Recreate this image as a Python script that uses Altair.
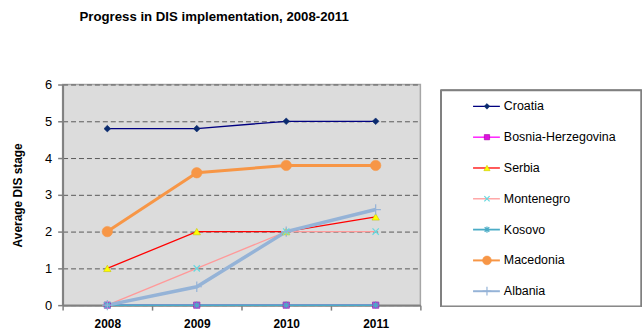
import altair as alt
import pandas as pd

# Chart values
years = ["2008", "2009", "2010", "2011"]
countries = ["Croatia", "Bosnia-Herzegovina", "Serbia", "Montenegro",
             "Kosovo", "Macedonia", "Albania"]
croatia = [4.8, 4.8, 5.0, 5.0]
bosnia = [0, 0, 0, 0]
serbia = [1, 2, 2, 2.4]
montenegro = [0, 1, 2, 2]
kosovo = [0, 0, 0, 0]
macedonia = [2, 3.6, 3.8, 3.8]
albania = [0, 0.5, 2, 2.6]
series_values = [croatia, bosnia, serbia, montenegro, kosovo, macedonia, albania]

FONT = "Liberation Sans"

# Marker glyphs in the unit square
PLUS = "M-1,0L1,0M0,-1L0,1"
XMARK = "M-1,-1L1,1M-1,1L1,-1"
STAR = "M-1,0L1,0M0,-1L0,1M-0.75,-0.75L0.75,0.75M-0.75,0.75L0.75,-0.75"

# Per-series line and marker styling
styles = {
    "Croatia": dict(line="#000080", width=1.3, shape="diamond", filled=True,
                    fill="#0A2A6E", stroke="#0A2A6E", size=45),
    "Bosnia-Herzegovina": dict(line="#FF00FF", width=1.3, shape="square", filled=True,
                               fill="#E010E0", stroke="#A000A0", size=40),
    "Serbia": dict(line="#FF0000", width=1.3, shape="triangle-up", filled=True,
                   fill="#FFFF00", stroke="#C8C800", size=55),
    "Montenegro": dict(line="#FF9999", width=1.3, shape=XMARK, filled=False,
                       fill="none", stroke="#66D9E0", size=40),
    "Kosovo": dict(line="#4BACC6", width=1.8, shape=STAR, filled=False,
                   fill="none", stroke="#4BACC6", size=55),
    "Macedonia": dict(line="#F79646", width=3, shape="circle", filled=True,
                      fill="#F79646", stroke="#F79646", size=110),
    "Albania": dict(line="#95B3D7", width=3.5, shape=PLUS, filled=False,
                    fill="none", stroke="#95B3D7", size=110),
}

df = pd.DataFrame(
    [{"country": c, "year": y, "value": v}
     for c, vals in zip(countries, series_values)
     for y, v in zip(years, vals)]
)

x_enc = alt.X(
    "year:O",
    scale=alt.Scale(type="band", domain=years, paddingInner=0, paddingOuter=0),
    axis=alt.Axis(title=None, labelAngle=0, labelFontWeight="bold", labelFontSize=12,
                  labelFont=FONT, labelColor="black", labelPadding=9,
                  tickBand="extent", tickSize=5, tickColor="#808080", tickWidth=1.5,
                  domainColor="#808080", domainWidth=2, grid=False),
)
y_enc = alt.Y(
    "value:Q",
    scale=alt.Scale(domain=[0, 6], nice=False, zero=True),
    axis=alt.Axis(title="Average DIS stage", values=[0, 1, 2, 3, 4, 5, 6],
                  titleFont=FONT, titleFontSize=12, titleFontWeight="bold",
                  titleColor="black", titlePadding=20,
                  labelFont=FONT, labelFontSize=13, labelColor="black", labelPadding=6,
                  tickSize=5, tickColor="#808080", tickWidth=1.5,
                  domainColor="#808080", domainWidth=2,
                  grid=True, gridColor="#5A5A5A", gridDash=[5, 3], gridWidth=1),
)

lines = []
points = []
for c in countries:
    s = styles[c]
    base = alt.Chart(df).transform_filter(alt.datum.country == c).encode(x=x_enc, y=y_enc)
    lines.append(base.mark_line(color=s["line"], strokeWidth=s["width"]))
    points.append(base.mark_point(shape=s["shape"], filled=s["filled"], fill=s["fill"],
                                  stroke=s["stroke"], strokeWidth=1.2 if not s["filled"] else 0.6,
                                  size=s["size"], opacity=1))

main = alt.layer(*lines, *points).properties(
    width=360, height=222,
    view=alt.ViewBackground(fill="#DCDCDC", stroke="#A6A6A6", strokeWidth=1.5),
)

# Legend panel drawn as its own small chart
leg_df = pd.DataFrame({"country": countries})
leg_y = alt.Y("country:N",
              scale=alt.Scale(type="point", domain=countries, range=[22, 208], padding=0),
              axis=None)
box = alt.Chart(leg_df).mark_rect(fill="white", stroke="#808080", strokeWidth=1.5).encode(
    x=alt.value(0), x2=alt.value(201), y=alt.value(6), y2=alt.value(223)
)
leg_layers = [box]
for c in countries:
    s = styles[c]
    b = alt.Chart(leg_df).transform_filter(alt.datum.country == c).encode(y=leg_y)
    leg_layers.append(b.mark_rule(color=s["line"], strokeWidth=min(s["width"], 2))
                      .encode(x=alt.value(32), x2=alt.value(59)))
    leg_layers.append(b.mark_point(shape=s["shape"], filled=s["filled"], fill=s["fill"],
                                   stroke=s["stroke"],
                                   strokeWidth=1.2 if not s["filled"] else 0.6,
                                   size=s["size"] * 0.7, opacity=1)
                      .encode(x=alt.value(46)))
leg_layers.append(
    alt.Chart(leg_df).mark_text(align="left", baseline="middle", font=FONT, fontSize=12.5,
                                color="black")
    .encode(x=alt.value(63), y=leg_y, text="country:N")
)
legend = alt.layer(*leg_layers).properties(
    width=200, height=224,
    view=alt.ViewBackground(fill="white", stroke="transparent"),
)

chart = alt.hconcat(main, legend, spacing=17).properties(
    title=alt.TitleParams("Progress in DIS implementation, 2008-2011", anchor="start",
                          font=FONT, fontSize=13.3, fontWeight="bold", color="black",
                          offset=55, dx=69),
    padding={"left": 11, "top": 8, "right": 0, "bottom": 0},
    background="white",
)

chart.save("out.html", embed_options={"renderer": "svg", "actions": False})
